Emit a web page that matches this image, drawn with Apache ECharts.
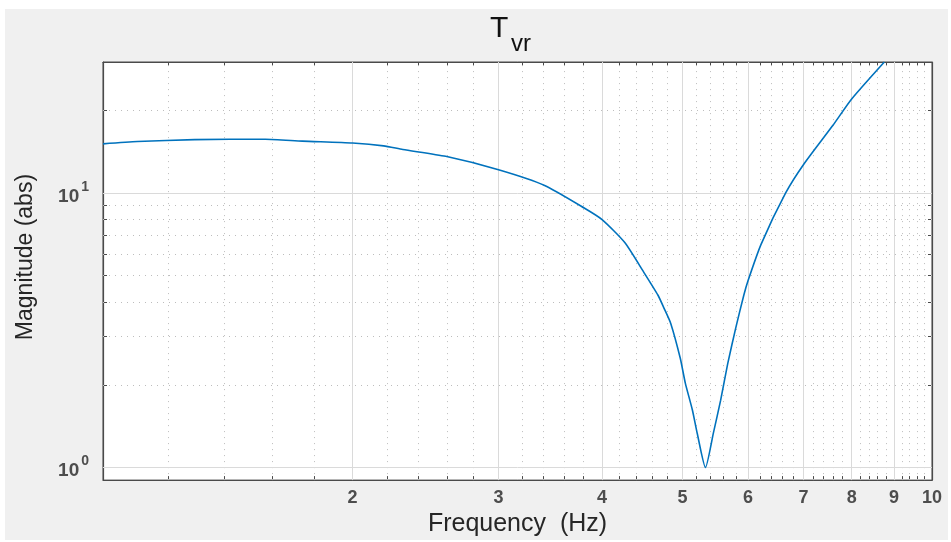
<!DOCTYPE html>
<html>
<head>
<meta charset="utf-8">
<script src="https://cdn.jsdelivr.net/npm/echarts@6/dist/echarts.min.js"></script>
<style>html,body{margin:0;padding:0;background:#fff;}#c{width:951px;height:542px;}</style>
</head>
<body>
<div id="c"></div>
<script>
// ---- data ----
const freq = [1.00,1.10,1.29,1.57,1.74,2.00,2.18,2.30,2.59,3.00,3.41,3.81,4.00,4.26,4.49,4.67,4.75,4.84,4.97,5.04,5.14,5.21,5.33,5.45,5.56,5.67,5.80,5.93,6.00,6.22,6.66,7.00,7.59,8.00,8.76];
const mag  = [15.1,15.4,15.65,15.7,15.45,15.2,14.85,14.4,13.6,12.15,10.65,8.8,8.0,6.6,5.15,4.25,3.81,3.35,2.5,2.03,1.62,1.33,1.0,1.34,1.76,2.39,3.24,4.25,4.8,6.5,10.0,12.7,17.6,22.0,30.0];
const xTickLabels = [2,3,4,5,6,7,8,9,10];
const xMinorGrid = [1.2,1.4,1.6,1.8,2.2,2.4,2.6,2.8,3.2,3.4,3.6,3.8,4.2,4.4,4.6,4.8,5.2,5.4,5.6,5.8,6.2,6.4,6.6,6.8,7.2,7.4,7.6,7.8,8.2,8.4,8.6,8.8,9.2,9.4,9.6,9.8];
const yTickLabels = [1,10];
const yMinorGrid = [2,3,4,5,6,7,8,9,20,30];
const xRange = [1,10];
const yRange = [0.9,30];
const titleMain = 'T';
const titleSub = 'vr';

const points = freq.map((f,i)=>[f,mag[i]]);
const xAllTicks = xTickLabels.concat(xMinorGrid).sort((a,b)=>a-b);
const yAllTicks = yTickLabels.concat(yMinorGrid).sort((a,b)=>a-b);

const majorStyle = {color:'#dadada', type:'solid', width:1};
const minorStyle = {color:'#bdbdbd', type:[1,5], width:1};
const gridLines = []
  .concat(xTickLabels.filter(v=>v<xRange[1]).map(v=>({xAxis:v, lineStyle:majorStyle})))
  .concat(xMinorGrid.map(v=>({xAxis:v, lineStyle:minorStyle})))
  .concat(yTickLabels.map(v=>({yAxis:v, lineStyle:majorStyle})))
  .concat(yMinorGrid.filter(v=>v<yRange[1]).map(v=>({yAxis:v, lineStyle:minorStyle})));

const FONT = '"Liberation Sans", Arial, Helvetica, sans-serif';
const axisColor = '#4a4a4a';
const labelColor = '#4d4d4d';

function xAxisCfg(pos, showLabel){
  return {
    type:'log', logBase:10, min:xRange[0], max:xRange[1], position:pos,
    axisLine:{show:true, onZero:false, lineStyle:{color:axisColor, width:1.2}},
    axisTick:{show:true, inside:true, length:4, customValues:xAllTicks, lineStyle:{color:axisColor}},
    axisLabel:{show:showLabel, customValues:xTickLabels, margin:9, color:labelColor, fontSize:18, fontWeight:'bold', fontFamily:FONT,
      formatter:(v)=>String(Math.round(v))},
    splitLine:{show:false}, minorTick:{show:false}, minorSplitLine:{show:false},
    name: showLabel ? 'Frequency  (Hz)' : '', nameLocation:'middle', nameGap:31,
    nameTextStyle:{fontSize:25, color:'#262626', fontFamily:FONT}
  };
}
function yAxisCfg(pos, showLabel){
  return {
    type:'log', logBase:10, min:yRange[0], max:yRange[1], position:pos,
    axisLine:{show:true, onZero:false, lineStyle:{color:axisColor, width:1.2}},
    axisTick:{show:true, inside:true, length:4, customValues:yAllTicks, lineStyle:{color:axisColor}},
    axisLabel:{show:showLabel, customValues:yTickLabels, margin:14, fontFamily:FONT,
      formatter:(v)=>'{b|10}{s|'+Math.round(Math.log10(v))+'}',
      rich:{
        b:{fontSize:19, fontWeight:'bold', color:labelColor, fontFamily:FONT, lineHeight:26, verticalAlign:'bottom'},
        s:{fontSize:14, fontWeight:'bold', color:labelColor, fontFamily:FONT, lineHeight:26, verticalAlign:'top', padding:[0,0,10,2]}
      }},
    splitLine:{show:false}, minorTick:{show:false}, minorSplitLine:{show:false},
    name: showLabel ? 'Magnitude (abs)' : '', nameLocation:'middle', nameGap:66, nameRotate:90,
    nameTextStyle:{fontSize:23, color:'#262626', fontFamily:FONT, padding:[0,0,0,28]}
  };
}

const chart = echarts.init(document.getElementById('c'), null, {renderer:'canvas'});
chart.setOption({
  animation:false,
  backgroundColor:'#ffffff',
  graphic:[{type:'rect', z:-100, silent:true, shape:{x:5, y:9, width:943, height:531}, style:{fill:'#f0f0f0'}}],
  title:[
    {text:titleMain, left:490, top:14, padding:0,
     textStyle:{fontSize:30, fontWeight:'normal', fontFamily:FONT, color:'#111'}},
    {text:titleSub, left:511, top:32, padding:0,
     textStyle:{fontSize:24, fontWeight:'normal', fontFamily:FONT, color:'#111'}}
  ],
  grid:{left:103, right:19, top:62, bottom:55, show:true, backgroundColor:'#ffffff', borderColor:axisColor, borderWidth:1},
  xAxis:[xAxisCfg('bottom', true), xAxisCfg('top', false)],
  yAxis:[yAxisCfg('left', true), yAxisCfg('right', false)],
  series:[
    {type:'line', name:'grid', data:[], xAxisIndex:0, yAxisIndex:0, silent:true, z:1,
     markLine:{silent:true, symbol:['none','none'], label:{show:false}, animation:false, data:gridLines}},
    {type:'line', name:'T_vr', data:points, xAxisIndex:0, yAxisIndex:0, showSymbol:false, symbol:'none', z:5, clip:true,
     smooth:0.2,
     lineStyle:{color:'#0072bd', width:1.6}}
  ]
});
</script>
</body>
</html>
